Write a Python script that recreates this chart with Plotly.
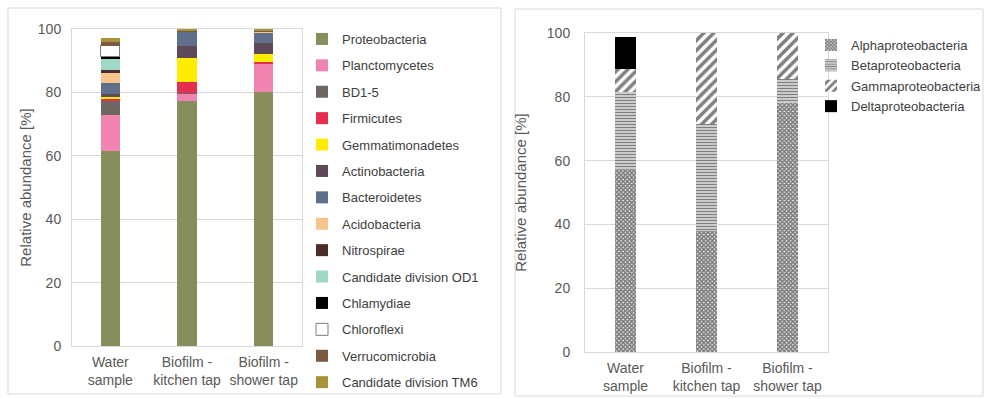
import plotly.graph_objects as go
from plotly.subplots import make_subplots

W, H = 986, 399

samples = ['Water<br>sample', 'Biofilm -<br>kitchen tap', 'Biofilm -<br>shower tap']

# phylum level (left chart), bottom to top
phyla = [
    'Proteobacteria', 'Planctomycetes', 'BD1-5', 'Firmicutes', 'Gemmatimonadetes',
    'Actinobacteria', 'Bacteroidetes', 'Acidobacteria', 'Nitrospirae',
    'Candidate division OD1', 'Chlamydiae', 'Chloroflexi', 'Verrucomicrobia',
    'Candidate division TM6',
]
water_phyla = [61.5, 11.4, 4.4, 0.7, 0.5, 1.0, 3.4, 3.1, 1.1, 3.3, 0.8, 3.5, 1.3, 1.3]
kitchen_phyla = [77.4, 2.2, 0.1, 3.5, 7.5, 4.0, 4.5, 0.1, 0.0, 0.0, 0.0, 0.0, 0.3, 0.3]
shower_phyla = [80.0, 9.2, 0.0, 0.3, 2.7, 3.5, 3.1, 0.3, 0.0, 0.0, 0.0, 0.0, 0.3, 0.3]
phyla_colors = [
    '#878E5B', '#F083B0', '#6E6662', '#E52F4D', '#FFEC00', '#5E4A58', '#5F6F8C',
    '#F5C58C', '#4A2C28', '#9FD8C6', '#000000', '#FFFFFF', '#7B5A42', '#A8933A',
]

# proteobacteria classes (right chart)
classes = ['Alphaproteobacteria', 'Betaproteobacteria', 'Gammaproteobacteria', 'Deltaproteobacteria']
water_classes = [57.3, 24.3, 7.1, 10.1]
kitchen_classes = [38.0, 33.5, 28.4, 0.0]
shower_classes = [78.2, 7.3, 14.5, 0.0]
class_colors = ['#FFFFFF', '#FFFFFF', '#FFFFFF', '#000000']
class_patterns = [
    dict(shape='x', size=3, solidity=0.8, fgcolor='#000000', bgcolor='#FFFFFF'),
    dict(shape='-', size=3, solidity=0.6, fgcolor='#000000', bgcolor='#FFFFFF'),
    dict(shape='/', size=7, solidity=0.5, fgcolor='#000000', bgcolor='#FFFFFF'),
    None,
]

FONT = 'Liberation Sans, Arial, sans-serif'
GRID = '#D9D9D9'
TICK = '#595959'


def px(x):
    return x / W


def py(y):
    return 1 - y / H


fig = make_subplots(rows=1, cols=2)

for i, name in enumerate(phyla):
    vals = [water_phyla[i], kitchen_phyla[i], shower_phyla[i]]
    outline = dict(color='#7F7F7F', width=1) if name == 'Chloroflexi' else dict(width=0)
    fig.add_trace(go.Bar(
        x=samples, y=vals, name=name, legendgroup=name, legend='legend',
        marker=dict(color=phyla_colors[i], line=outline),
    ), row=1, col=1)

for i, name in enumerate(classes):
    vals = [water_classes[i], kitchen_classes[i], shower_classes[i]]
    marker = dict(color=class_colors[i], line=dict(width=0))
    if class_patterns[i]:
        marker['pattern'] = class_patterns[i]
    fig.add_trace(go.Bar(
        x=samples, y=vals, name=name, legendgroup=name, legend='legend2',
        marker=marker,
    ), row=1, col=2)

axis_common = dict(showline=True, mirror=True, linecolor=GRID, linewidth=1,
                   tickfont=dict(family=FONT, size=14, color=TICK))

fig.update_xaxes(**axis_common, ticks='', ticklabelstandoff=3)
fig.update_yaxes(**axis_common, range=[0, 100], dtick=20, showgrid=True, gridcolor=GRID,
                 zeroline=False, ticks='', ticklen=0,
                 title=dict(text='Relative abundance [%]', font=dict(family=FONT, size=15, color=TICK)))

fig.update_xaxes(domain=[px(72), px(302)], row=1, col=1)
fig.update_yaxes(domain=[py(346), py(29)], ticklabelstandoff=7, title_standoff=2, row=1, col=1)
fig.update_xaxes(domain=[px(585), px(828)], row=1, col=2)
fig.update_yaxes(domain=[py(352), py(33)], ticklabelstandoff=11, title_standoff=16, row=1, col=2)

# panel frames
for x0, x1, y0, y1 in [(8, 501, 8, 394), (515, 983, 9, 396)]:
    fig.add_shape(type='rect', xref='paper', yref='paper',
                  x0=px(x0), x1=px(x1), y0=py(y1), y1=py(y0),
                  line=dict(color=GRID, width=1), fillcolor='rgba(0,0,0,0)')

fig.update_layout(
    width=W, height=H,
    margin=dict(l=0, r=0, t=0, b=0, autoexpand=False),
    barmode='stack', bargap=0.75,
    paper_bgcolor='white', plot_bgcolor='white',
    font=dict(family=FONT, size=13, color='#404040'),
    legend=dict(x=px(302), y=py(24), xanchor='left', yanchor='top',
                traceorder='grouped', tracegroupgap=6.5,
                itemwidth=30, font=dict(family=FONT, size=13, color='#404040'),
                bgcolor='rgba(0,0,0,0)'),
    legend2=dict(x=px(811), y=py(30), xanchor='left', yanchor='top',
                 traceorder='grouped', tracegroupgap=0.5,
                 itemwidth=30, font=dict(family=FONT, size=13, color='#404040'),
                 bgcolor='rgba(0,0,0,0)'),
)

# drop the default page margin so the figure sits at the window's corner
fig.write_html('out.html', config={'displayModeBar': False},
               post_script="document.body.style.margin='0';")
